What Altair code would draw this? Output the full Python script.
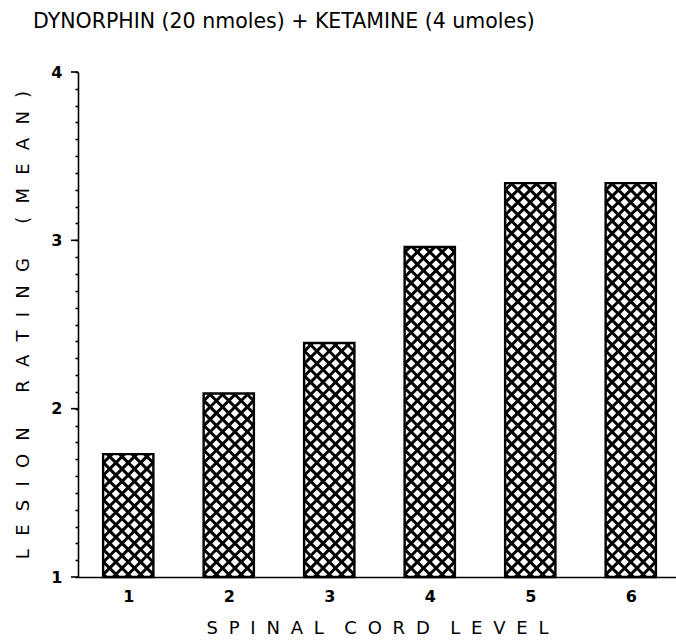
import altair as alt
import pandas as pd

# ---- data ----
levels = [1, 2, 3, 4, 5, 6]
ratings = [1.73, 2.09, 2.39, 2.96, 3.34, 3.34]
y_major = [1, 2, 3, 4]
y_minor = [round(1 + i * 0.1, 1) for i in range(31)]

chart_title = "DYNORPHIN (20 nmoles) + KETAMINE (4 umoles)"
x_title_words = ["SPINAL", "CORD", "LEVEL"]
y_title_words = ["LESION", "RATING", "(MEAN)"]

NB = "\u00a0"
EN = "\u2002"
HAIR = "\u200a"


def spaced(words, letter_gap, word_gap):
    return word_gap.join(letter_gap.join(list(w)) for w in words)


x_title = spaced(x_title_words, EN + HAIR, EN + NB + NB)
y_title = spaced(y_title_words, NB + NB + HAIR, NB * 6)

# ---- geometry ----
W_PLOT = 598
H_PLOT = 505
X_DOM = [0.5, 6.45]
Y_DOM = [1, 4]
SX = W_PLOT / (X_DOM[1] - X_DOM[0])   # px per x unit
SY = H_PLOT / (Y_DOM[1] - Y_DOM[0])   # px per y unit
HALF = 0.25                           # half bar width (x units)
PERIOD = 12.4                         # hatch period (px)

df = pd.DataFrame({"level": levels, "value": ratings})
df_major = pd.DataFrame({"tick": y_major})

xs = alt.Scale(domain=X_DOM, nice=False, zero=False)
ys = alt.Scale(domain=Y_DOM, nice=False, zero=False)

x_axis = alt.Axis(
    values=levels,
    format="d",
    ticks=False,
    labelPadding=11,
    titlePadding=15,
)
y_axis = alt.Axis(
    values=y_minor,
    labelExpr="abs(datum.value - round(datum.value)) < 0.001 ? format(datum.value, 'd') : ''",
    labelOverlap=False,
    labelFlush=False,
    tickSize=3,
    labelPadding=13,
    titlePadding=18,
)


def X(field):
    return alt.X(field, type="quantitative", scale=xs, axis=x_axis, title=x_title)


def Y(field):
    return alt.Y(field, type="quantitative", scale=ys, axis=y_axis, title=y_title)


base = alt.Chart(df).transform_calculate(
    x0=f"datum.level - {HALF}", x1=f"datum.level + {HALF}", y0="1"
)

bars = base.mark_rect(fill="white").encode(
    x=X("x0"), x2="x1:Q", y=Y("y0"), y2="value:Q"
)

hatch = (
    alt.Chart(df)
    .transform_calculate(fam="[0, 1]")
    .transform_flatten(["fam"])
    .transform_calculate(k="sequence(0, 60)")
    .transform_flatten(["k"])
    .transform_calculate(
        W=f"{2 * HALF * SX}",
        H=f"(datum.value - 1) * {SY}",
    )
    .transform_calculate(
        c=f"datum.fam == 0 ? -datum.W + datum.k * {PERIOD} + 3 : datum.k * {PERIOD} + 3"
    )
    .transform_calculate(
        u0="datum.fam == 0 ? max(0, -datum.c) : max(0, datum.c - datum.H)",
        u1="datum.fam == 0 ? min(datum.W, datum.H - datum.c) : min(datum.W, datum.c)",
    )
    .transform_filter("datum.u1 > datum.u0 + 0.5")
    .transform_calculate(
        v0="datum.fam == 0 ? datum.u0 + datum.c : datum.c - datum.u0",
        v1="datum.fam == 0 ? datum.u1 + datum.c : datum.c - datum.u1",
    )
    .transform_calculate(
        hx0=f"datum.level - {HALF} + datum.u0 / {SX}",
        hx1=f"datum.level - {HALF} + datum.u1 / {SX}",
        hy0=f"1 + datum.v0 / {SY}",
        hy1=f"1 + datum.v1 / {SY}",
    )
    .mark_rule(color="black", strokeWidth=3.0, strokeCap="butt")
    .encode(x=X("hx0"), x2="hx1:Q", y=Y("hy0"), y2="hy1:Q")
)

outline = base.mark_rect(fill=None, stroke="black", strokeWidth=2.4).encode(
    x=X("x0"), x2="x1:Q", y=Y("y0"), y2="value:Q"
)

major_ticks = alt.Chart(df_major).mark_rule(color="black", strokeWidth=1.6).encode(
    x=alt.value(-7),
    x2=alt.value(0),
    y=Y("tick"),
)

chart = (
    alt.layer(bars, hatch, outline, major_ticks)
    .properties(
        width=W_PLOT,
        height=H_PLOT,
        autosize=alt.AutoSizeParams(type="none"),
        padding={"left": 78, "top": 72, "right": 0, "bottom": 66},
        background="white",
        title=alt.TitleParams(
            chart_title,
            anchor="start",
            frame="group",
            dx=-45,
            offset=32,
            font="DejaVu Sans",
            fontSize=20.5,
            fontWeight="normal",
            color="black",
        ),
    )
    .configure_view(stroke=None)
    .configure_axis(
        grid=False,
        domainColor="black",
        domainWidth=1.6,
        tickColor="black",
        tickWidth=1.6,
        labelColor="black",
        titleColor="black",
        labelFont="DejaVu Sans",
        labelFontSize=16,
        labelFontWeight="bold",
        titleFont="DejaVu Sans",
        titleFontSize=18,
        titleFontWeight="normal",
    )
)

chart.save("out.html", embed_options={"renderer": "svg", "actions": False})
